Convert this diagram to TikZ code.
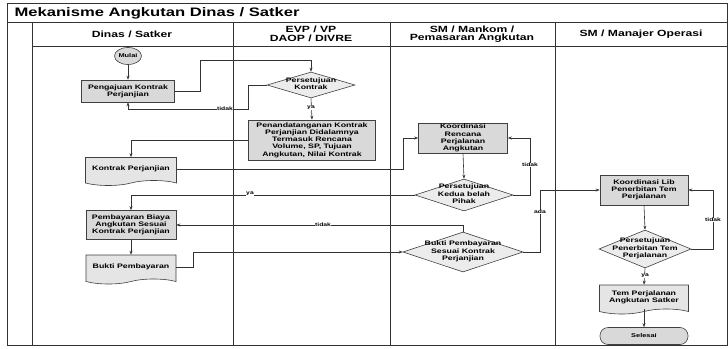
\documentclass[tikz,border=0pt]{standalone}
\usepackage{fontspec}
\setmainfont{Liberation Sans}[FakeStretch=1.35]
\usetikzlibrary{arrows.meta, shapes.geometric, shapes.symbols, calc}

% teks di dalam belah ketupat tidak ikut menentukan ukuran
\newcommand{\isiketupat}[1]{\makebox[0pt]{\smash{\raisebox{-1.2pt}{\begin{tabular}{@{}c@{}}#1\end{tabular}}}}}

\begin{document}
\begin{tikzpicture}[
        x=1pt, y=-1pt,
        garis/.style={draw=black!80, line width=0.6pt},
        panah/.style={garis, -{Stealth[length=4pt, width=3pt]}},
        kepala/.style={font=\fontsize{9}{8.6}\selectfont\bfseries, align=center, inner sep=0pt},
        proses/.style={rectangle, draw=black!75, fill=gray!30, line width=0.6pt, font=\fontsize{6.5}{7.2}\selectfont\bfseries, align=center, inner sep=1pt},
        keputusan/.style={diamond, draw=black!75, fill=gray!15, line width=0.6pt, font=\fontsize{6.5}{7.2}\selectfont\bfseries, inner sep=0pt},
        dokumen/.style={tape, tape bend top=none, tape bend height=5pt, draw=black!75, fill=gray!20, line width=0.6pt, font=\fontsize{6.5}{7.2}\selectfont\bfseries, align=center, inner sep=1pt},
        ujung/.style={draw=black!75, fill=gray!30, line width=0.6pt, font=\fontsize{5.5}{6}\selectfont\bfseries, inner sep=0pt},
        ket/.style={font=\fontsize{5}{5}\selectfont\bfseries, fill=white, inner sep=0.6pt}
    ]
    \useasboundingbox (0,0) rectangle (728,348);

    % bingkai dan jalur
    \draw[garis] (7,3) rectangle (727,345);
    \draw[garis] (7,22) -- (727,22);
    \draw[garis] (32,22) -- (32,345);
    \draw[garis] (32,46) -- (727,46);
    \foreach \x in {233, 390, 555} {
        \draw[garis] (\x,22) -- (\x,345);
    }

    \node[font=\fontsize{12.3}{12}\selectfont\bfseries, anchor=west] (judul) at (11,13) {Mekanisme Angkutan Dinas / Satker};
    \node[kepala] (hDinas) at (132,34) {Dinas / Satker};
    \node[kepala] (hEvp) at (311,34) {EVP / VP\\DAOP / DIVRE};
    \node[kepala] (hSm) at (472,34) {SM / Mankom /\\Pemasaran Angkutan};
    \node[kepala] (hOps) at (641,34) {SM / Manajer Operasi};

    % simbol alur
    \node[ujung, ellipse, minimum width=27pt, minimum height=17pt] (mulai) at (128,56) {Mulai};
    \node[proses, minimum width=93pt, minimum height=22pt] (ajukan) at (128,91) {Pengajuan Kontrak\\Perjanjian};
    \node[keputusan, minimum width=88pt, minimum height=26pt] (setujuKontrak) at (311,85) {\isiketupat{Persetujuan\\Kontrak}};
    \node[proses, minimum width=127pt, minimum height=40pt] (tandatangan) at (312,140) {Penandatanganan Kontrak\\Perjanjian Didalamnya\\Termasuk Rencana\\Volume, SP, Tujuan\\Angkutan, Nilai Kontrak};
    \node[dokumen, minimum width=91pt, minimum height=28pt] (kontrak) at (131,169) {Kontrak Perjanjian};
    \node[proses, minimum width=89pt, minimum height=30pt] (koordinasi) at (463,138) {Koordinasi\\Rencana\\Perjalanan\\Angkutan};
    \node[keputusan, minimum width=98pt, minimum height=32pt] (setujuPihak) at (464,195) {\isiketupat{Persetujuan\\Kedua belah\\Pihak}};
    \node[proses, minimum width=90pt, minimum height=29pt] (bayar) at (131,225) {Pembayaran Biaya\\Angkutan Sesuai\\Kontrak Perjanjian};
    \node[dokumen, minimum width=90pt, minimum height=29pt] (bukti) at (131,267) {Bukti Pembayaran};
    \node[keputusan, minimum width=120pt, minimum height=40pt] (cekBukti) at (463,252) {\isiketupat{Bukti Pembayaran\\Sesuai Kontrak\\Perjanjian}};
    \node[proses, minimum width=88pt, minimum height=30pt] (koordLib) at (644,190) {Koordinasi Lib\\Penerbitan Tem\\Perjalanan};
    \node[keputusan, minimum width=92pt, minimum height=38pt] (setujuTem) at (645,249) {\isiketupat{Persetujuan\\Penerbitan Tem\\Perjalanan}};
    \node[dokumen, minimum width=89pt, minimum height=29pt] (tem) at (644,297) {Tem Perjalanan\\Angkutan Satker};
    \node[ujung, rectangle, rounded corners=8pt, minimum width=88pt, minimum height=17pt] (selesai) at (644,336) {Selesai};

    % titik belok
    \coordinate (b1) at (200,60);
    \coordinate (b2) at (248,109);
    \coordinate (b3) at (403,138);
    \coordinate (b4) at (530,138);
    \coordinate (b5) at (193,252);
    \coordinate (b6) at (540,190);
    \coordinate (b7) at (713,190);

    % alur
    \draw[panah] (mulai) -- (ajukan);
    \draw[panah] (ajukan.east) -| (b1) -| (setujuKontrak.north);
    \draw[panah] (setujuKontrak.west) -| (b2) -| (ajukan.south);
    \draw[panah] (setujuKontrak.south) -- (tandatangan.north);
    \draw[panah] (tandatangan.west) -| (kontrak.north);
    \draw[panah] (kontrak.east) -| (b3) -- (koordinasi.west);
    \draw[panah] (koordinasi.south) -- (setujuPihak.north);
    \draw[panah] (setujuPihak.east) -| (b4) -- (koordinasi.east);
    \draw[panah] (setujuPihak.west) -| (bayar.north);
    \draw[panah] (cekBukti.north) |- (bayar.east);
    \draw[panah] (bayar.south) -- (bukti.north);
    \draw[panah] (bukti.east) -| (b5) -- (cekBukti.west);
    \draw[panah] (cekBukti.east) -| (b6) -- (koordLib.west);
    \draw[panah] (koordLib.south) -- (setujuTem.north);
    \draw[panah] (setujuTem.east) -| (b7) -- (koordLib.east);
    \draw[panah] (setujuTem.south) -- (tem.north);
    \draw[panah] (tem.south) -- (selesai.north);

    % keterangan
    \node[ket] (k1) at (225,109) {tidak};
    \node[ket] (k2) at (311,108) {ya};
    \node[ket] (k3) at (530,165) {tidak};
    \node[ket] (k4) at (250,194) {ya};
    \node[ket] (k5) at (323,225) {tidak};
    \node[ket] (k6) at (540,212) {ada};
    \node[ket] (k7) at (713,220) {tidak};
    \node[ket] (k8) at (645,276) {ya};
\end{tikzpicture}
\end{document}
